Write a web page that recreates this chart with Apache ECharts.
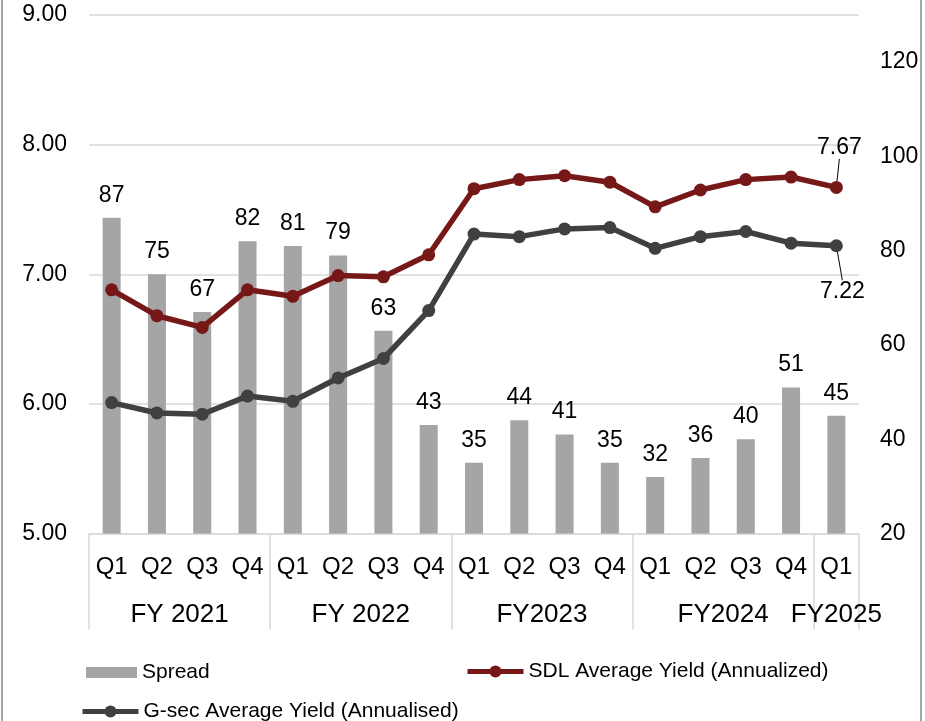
<!DOCTYPE html>
<html>
<head>
<meta charset="utf-8">
<script src="https://cdn.jsdelivr.net/npm/echarts@6/dist/echarts.min.js"></script>
<style>
  html, body { margin: 0; padding: 0; background: #ffffff; }
  #frame { position: relative; width: 925px; height: 721px; overflow: hidden; }
  #chart { position: absolute; left: 0; top: 0; width: 925px; height: 721px; }
  .edge { position: absolute; top: 0; width: 2px; height: 721px; background: #a6a6a6; }
</style>
</head>
<body>
<div id="frame">
  <div id="chart"></div>
  <div class="edge" style="left:1px"></div>
  <div class="edge" style="left:920px"></div>
</div>
<script>
// Quarterly categories and fiscal-year groups
const quarters = ['Q1','Q2','Q3','Q4','Q1','Q2','Q3','Q4','Q1','Q2','Q3','Q4','Q1','Q2','Q3','Q4','Q1'];
const fyNames = ['FY 2021', 'FY 2022', 'FY2023', 'FY2024', 'FY2025'];
const fyQuarterCounts = [4, 4, 4, 4, 1];

// Series values
const spread = [87, 75, 67, 82, 81, 79, 63, 43, 35, 44, 41, 35, 32, 36, 40, 51, 45];
const sdlYield = [6.88, 6.68, 6.59, 6.88, 6.83, 6.99, 6.98, 7.15, 7.66, 7.73, 7.76, 7.71, 7.52, 7.65, 7.73, 7.75, 7.67];
const gsecYield = [6.01, 5.93, 5.92, 6.06, 6.02, 6.20, 6.35, 6.72, 7.31, 7.29, 7.35, 7.36, 7.20, 7.29, 7.33, 7.24, 7.22];

const seriesNames = ['Spread', 'SDL Average Yield (Annualized)', 'G-sec Average Yield (Annualised)'];

// Group boundaries and centres on a 0..N scale for the fiscal-year row
const fyBounds = [0];
const fyCentres = [];
fyQuarterCounts.forEach(function (n) {
  const start = fyBounds[fyBounds.length - 1];
  fyCentres.push(start + n / 2);
  fyBounds.push(start + n);
});

const FONT = "'Liberation Sans', Arial, sans-serif";
const GRID_LINE = '#d9d9d9';
const SDL_COLOR = '#771818';
const GSEC_COLOR = '#404040';

const chart = echarts.init(document.getElementById('chart'), null, { renderer: 'canvas' });

const lastIdx = quarters.length - 1;

const legendText = { fontSize: 21, color: '#000', fontFamily: FONT };

chart.setOption({
  animation: false,
  textStyle: { fontFamily: FONT, color: '#000' },
  grid: { left: 89, right: 66, top: 15, bottom: 187.5, containLabel: false },
  legend: [
    {
      data: [{ name: seriesNames[0], icon: 'rect' }], left: 86, top: 662, padding: 0,
      itemWidth: 51, itemHeight: 11, itemGap: 0,
      textStyle: legendText
    },
    {
      data: [seriesNames[1]], left: 465, top: 661, padding: 0,
      itemWidth: 56, itemHeight: 15, itemGap: 0,
      lineStyle: { width: 5 },
      textStyle: legendText
    },
    {
      data: [seriesNames[2]], left: 80, top: 701, padding: 0,
      itemWidth: 56, itemHeight: 15, itemGap: 0,
      lineStyle: { width: 5 },
      textStyle: legendText
    }
  ],
  xAxis: [
    {
      type: 'category',
      data: quarters,
      boundaryGap: true,
      axisLine: { show: true, lineStyle: { color: GRID_LINE, width: 1.5 } },
      axisTick: { show: false },
      axisLabel: { fontSize: 24, color: '#000', fontFamily: FONT, margin: 22, interval: 0 },
      splitLine: { show: false }
    },
    {
      type: 'value',
      min: 0,
      max: quarters.length,
      position: 'bottom',
      axisLine: { show: false },
      axisTick: {
        show: true, length: 96, inside: false,
        customValues: fyBounds,
        lineStyle: { color: GRID_LINE, width: 1.5 }
      },
      axisLabel: {
        show: true, fontSize: 26, color: '#000', fontFamily: FONT, margin: 68,
        customValues: fyCentres,
        showMinLabel: true, showMaxLabel: true, hideOverlap: false,
        formatter: function (v) {
          const i = fyCentres.indexOf(v);
          return i >= 0 ? fyNames[i] : '';
        }
      },
      splitLine: { show: false }
    }
  ],
  yAxis: [
    {
      type: 'value', min: 5, max: 9, interval: 1, position: 'left',
      axisLine: { show: false }, axisTick: { show: false },
      axisLabel: {
        fontSize: 23, color: '#000', fontFamily: FONT, margin: 22,
        formatter: function (v) { return v.toFixed(2); }
      },
      splitLine: { show: true, lineStyle: { color: GRID_LINE, width: 1.5 } }
    },
    {
      type: 'value', min: 20, max: 130, interval: 20, position: 'right',
      axisLine: { show: false }, axisTick: { show: false },
      axisLabel: { fontSize: 23, color: '#000', fontFamily: FONT, margin: 21, showMaxLabel: false },
      splitLine: { show: false }
    }
  ],
  series: [
    {
      name: seriesNames[0],
      type: 'bar',
      xAxisIndex: 0,
      yAxisIndex: 1,
      data: spread,
      barWidth: 18,
      itemStyle: { color: '#a5a5a5' },
      label: {
        show: true, position: 'top', distance: 11,
        fontSize: 23, color: '#000', fontFamily: FONT
      },
      z: 1
    },
    {
      name: seriesNames[1],
      type: 'line',
      xAxisIndex: 0,
      yAxisIndex: 0,
      data: sdlYield.map(function (v, i) {
        return i === lastIdx ? {
          value: v,
          label: { show: true, position: 'top', distance: 5,
            formatter: function (p) { return p.value.toFixed(2); } },
          labelLine: { show: true, lineStyle: { color: '#000', width: 1 } }
        } : v;
      }),
      symbol: 'circle',
      symbolSize: 13,
      lineStyle: { color: SDL_COLOR, width: 5.5 },
      itemStyle: { color: SDL_COLOR },
      label: { show: false, fontSize: 23, color: '#000', fontFamily: FONT },
      labelLayout: function (p) { return p.dataIndex === lastIdx ? { dx: 3, dy: -17 } : {}; },
      z: 3
    },
    {
      name: seriesNames[2],
      type: 'line',
      xAxisIndex: 0,
      yAxisIndex: 0,
      data: gsecYield.map(function (v, i) {
        return i === lastIdx ? {
          value: v,
          label: { show: true, position: 'bottom', distance: 5,
            formatter: function (p) { return p.value.toFixed(2); } },
          labelLine: { show: true, lineStyle: { color: '#000', width: 1 } }
        } : v;
      }),
      symbol: 'circle',
      symbolSize: 13,
      lineStyle: { color: GSEC_COLOR, width: 5.5 },
      itemStyle: { color: GSEC_COLOR },
      label: { show: false, fontSize: 23, color: '#000', fontFamily: FONT },
      labelLayout: function (p) { return p.dataIndex === lastIdx ? { dx: 6, dy: 23 } : {}; },
      z: 3
    }
  ]
});
</script>
</body>
</html>
